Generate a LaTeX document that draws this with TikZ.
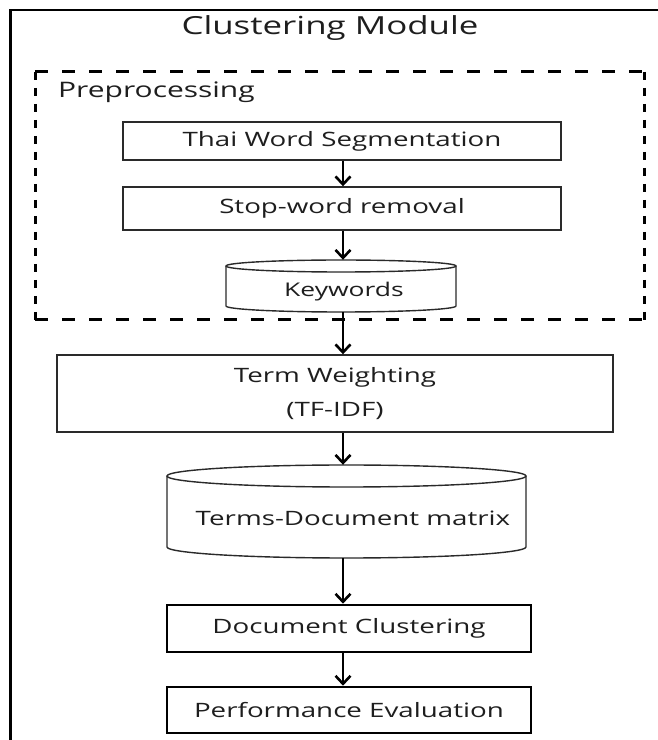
\documentclass[tikz,border=0pt]{standalone}
\usepackage{fontspec}
\setmainfont[FakeStretch=1.4]{Open Sans}
\usetikzlibrary{arrows.meta}
\definecolor{txt}{HTML}{1E1E1E}
\definecolor{edge}{HTML}{2A2A2A}
\begin{document}
\begin{tikzpicture}[x=1pt,y=1pt,
  font=\fontsize{19.8}{24}\selectfont,
  every node/.style={text=txt, inner sep=0pt},
  thinbox/.style={draw=edge, line width=1.4pt, rectangle},
  thickbox/.style={draw=black, line width=2.6pt, rectangle},
  holder/.style={rectangle},
  dashH/.style={draw=black, line width=3pt, dash pattern=on 13pt off 14pt},
  dashV/.style={draw=black, line width=3pt, dash pattern=on 8pt off 8pt},
  cyl/.style={draw=edge, line width=1.4pt},
  arr/.style={draw=black, line width=2.6pt, -{Straight Barb[length=8pt,width=15pt,line width=2.6pt]}}
]
\useasboundingbox (0,0) rectangle (657,740);
\fill[white] (0,0) rectangle (657,740);
% outer frame (extends beyond the page)
\draw[line width=2.6pt] (10.5,-20) -- (10.5,730) -- (680,730);
% title
\node[font=\fontsize{24.9}{29}\selectfont] (title) at (330,712) {Clustering Module};
% dashed preprocessing frame
\draw[dashH] (35,668) -- (644,668);
\draw[dashH] (35,420) -- (644,420);
\draw[dashV] (35,668) -- (35,420);
\draw[dashV] (644,668) -- (644,420);
\node[anchor=west, font=\fontsize{21.4}{25}\selectfont] (pre) at (58,648) {Preprocessing};
% boxes
\node[thinbox, minimum width=438pt, minimum height=38pt] (thai) at (342,599) {Thai Word Segmentation};
\node[thinbox, minimum width=438pt, minimum height=43pt] (stop) at (342,531.5) {Stop-word removal};
% keywords cylinder
\draw[cyl, fill=white] (226,474) -- (226,434) arc[start angle=180, end angle=360, x radius=115, y radius=6] -- (456,474);
\draw[cyl] (341,474) ellipse [x radius=115, y radius=6];
\node[holder, minimum width=230pt, minimum height=52pt] (kw) at (341,454) {};
\node[font=\fontsize{18.9}{23}\selectfont] (kwtext) at (344,448) {Keywords};
% term weighting
\node[thinbox, minimum width=556pt, minimum height=77pt, align=center] (term) at (335,346.5) {Term Weighting\\[10pt](TF-IDF)};
% terms-document cylinder
\draw[cyl, fill=white] (167,264) -- (167,193) arc[start angle=180, end angle=360, x radius=179.5, y radius=11] -- (526,264);
\draw[cyl] (346.5,264) ellipse [x radius=179.5, y radius=11];
\node[holder, minimum width=359pt, minimum height=93pt] (tdm) at (346.5,228.5) {};
\node (tdmtext) at (353,222) {Terms-Document matrix};
% clustering and evaluation
\node[thickbox, minimum width=364pt, minimum height=47pt] (doc) at (349,111.5) {Document Clustering};
\node[thickbox, minimum width=364pt, minimum height=46pt] (perf) at (349,30) {Performance Evaluation};
% arrows
\coordinate (col) at (343,0);
\draw[arr] (thai.south -| col) -- (stop.north -| col);
\draw[arr] (stop.south -| col) -- (kw.north -| col);
\draw[arr] (kw.south -| col) -- (term.north -| col);
\draw[arr] (term.south -| col) -- (tdm.north -| col);
\draw[arr] (tdm.south -| col) -- (doc.north -| col);
\draw[arr] (doc.south -| col) -- (perf.north -| col);
\end{tikzpicture}
\end{document}
